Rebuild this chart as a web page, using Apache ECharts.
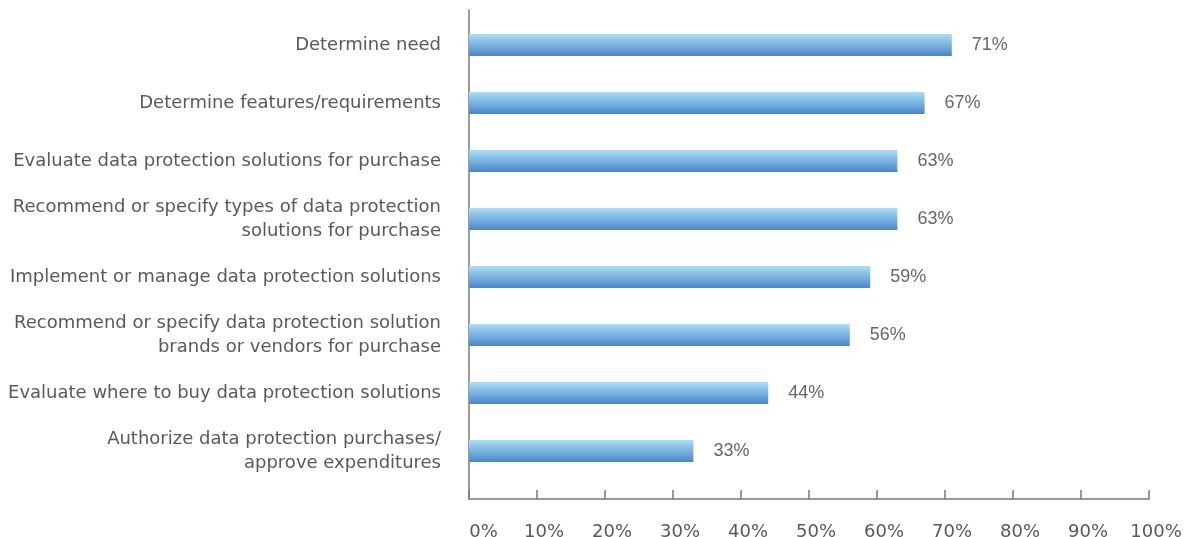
<!DOCTYPE html>
<html><head><meta charset="utf-8">
<script src="https://cdn.jsdelivr.net/npm/echarts@6/dist/echarts.min.js"></script>
<style>html,body{margin:0;padding:0;background:#fff}#c{width:1187px;height:537px}</style>
</head><body><div id="c"></div>
<script>
const categories = [
  "Determine need",
  "Determine features/requirements",
  "Evaluate data protection solutions for purchase",
  "Recommend or specify types of data protection\nsolutions for purchase",
  "Implement or manage data protection solutions",
  "Recommend or specify data protection solution\nbrands or vendors for purchase",
  "Evaluate where to buy data protection solutions",
  "Authorize data protection purchases/\napprove expenditures"
];
const values = [71, 67, 63, 63, 59, 56, 44, 33];
const xTicks = [0, 10, 20, 30, 40, 50, 60, 70, 80, 90, 100];

const FONT = "DejaVu Sans";
const chart = echarts.init(document.getElementById('c'));
chart.setOption({
  animation: false,
  grid: [
    {left: 469, right: 38, top: 16, bottom: 57, outerBoundsMode: 'none', containLabel: false},
    {left: 469, right: 38, top: 10, bottom: 38, outerBoundsMode: 'none', containLabel: false}
  ],
  xAxis: [
    {gridIndex: 0, type: 'value', min: xTicks[0], max: xTicks[xTicks.length - 1], interval: xTicks[1] - xTicks[0], offset: 19,
     axisLine: {show: true, lineStyle: {color: '#7a7a7a', width: 1.5}},
     axisTick: {show: true, inside: true, length: 9, lineStyle: {color: '#7a7a7a', width: 1.5}},
     splitLine: {show: false},
     axisLabel: {
       formatter: v => v === xTicks[0] ? '{z|' + v + '%}' : '{n|' + v + '%}',
       color: '#58595b', fontFamily: FONT, fontSize: 18, margin: 24,
       rich: {
         z: {color: '#58595b', fontFamily: FONT, fontSize: 18, padding: [0, 0, 0, 29]},
         n: {color: '#58595b', fontFamily: FONT, fontSize: 18, padding: [0, 0, 0, 14]}
       }
     }
    },
    {gridIndex: 1, type: 'value', min: 0, max: 100, show: false}
  ],
  yAxis: [
    {gridIndex: 0, type: 'category', data: categories, inverse: true,
     axisLine: {show: false}, axisTick: {show: false},
     axisLabel: {color: '#58595b', fontFamily: FONT, fontSize: 18, margin: 28, lineHeight: 24, align: 'right'}
    },
    {gridIndex: 1, type: 'category', data: ['a'],
     axisLine: {show: true, lineStyle: {color: '#7a7a7a', width: 1.5}},
     axisTick: {show: false}, axisLabel: {show: false}}
  ],
  series: [{
    type: 'bar', xAxisIndex: 0, yAxisIndex: 0,
    data: values, barWidth: 22,
    itemStyle: {color: new echarts.graphic.LinearGradient(0, 0, 0, 1, [
      {offset: 0, color: '#abdef6'},
      {offset: 1, color: '#4a86c8'}
    ])},
    label: {show: true, position: 'right', distance: 20, formatter: p => p.value + '%',
      color: '#666666', fontFamily: 'Liberation Sans', fontSize: 18, padding: [3, 0, 0, 0]}
  }]
});
</script></body></html>
